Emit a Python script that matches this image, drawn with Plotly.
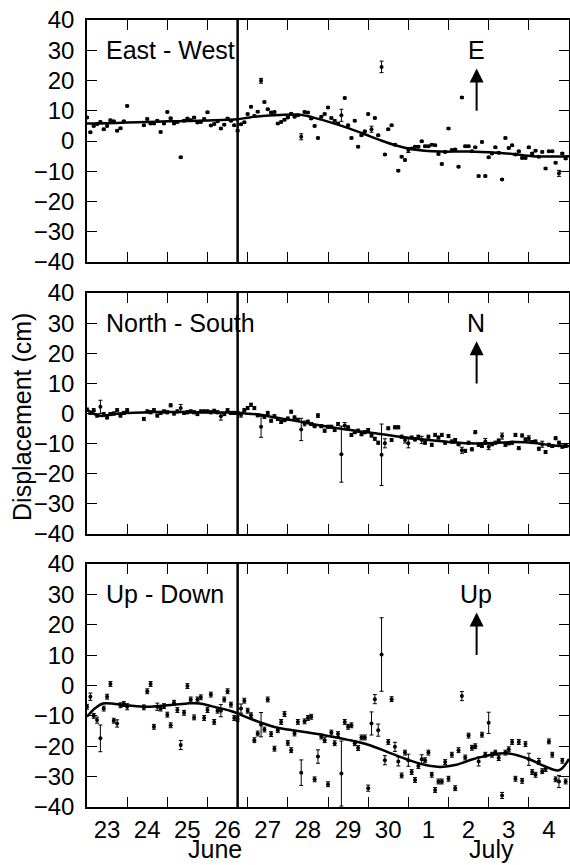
import plotly.graph_objects as go

# ---------------- data ----------------
# sampling times, hours after 23 June 00:00
HOURS = [0, 2, 4, 6, 8, 10, 12, 14, 16, 18, 20, 22, 24,
         34, 36, 38, 40, 42, 44, 46, 48, 50, 52,
         54, 56, 58, 60, 62, 64, 66, 68, 70, 72,
         74, 76, 78, 80, 82, 84, 86, 88, 90, 92,
         94, 96, 98, 100, 102, 104, 106, 108, 110, 112,
         114, 116, 118, 120, 122, 124, 126,
         128, 130, 132, 134, 136, 138, 140, 142, 144, 146,
         148, 150, 152, 154, 156, 158, 160, 162, 164, 166,
         168, 170, 172, 174, 176, 178, 180, 182, 184, 186,
         188, 190, 192, 194, 196, 198, 200, 202, 204, 206,
         208, 210, 212, 214, 216, 218, 220, 222, 224, 226,
         228, 230, 232, 234, 236, 238, 240, 242, 244, 246,
         248, 250, 252, 254, 256, 258, 260, 262, 264, 266,
         268, 270, 272, 274, 276, 278, 280, 282, 284, 286]

EW_VALUES = [7.8, 2.9, 5.0, 5.6, 6.3, 3.9, 5.0, 6.9, 6.5, 3.4, 4.2, 6.5, 11.6,
             5.2, 7.3, 5.8, 5.8, 6.7, 3.0, 5.8, 9.6, 7.5, 5.8,
             6.3, -5.4, 6.7, 7.4, 6.9, 7.8, 6.1, 6.3, 7.3, 9.5,
             5.1, 5.6, 6.5, 4.1, 5.4, 7.4, 6.7, 5.2, 3.4, 5.5,
             6.2, 8.9, 11.3, 8.3, 9.7, 19.9, 12.9, 10.5, 9.4, 9.6,
             5.8, 6.3, 7.0, 7.8, 9.0, 8.0, 8.5,
             1.4, 9.6, 9.4, 7.4, 5.0, 1.0, 8.0, 8.9, 11.1, 7.6,
             6.7, 5.8, 8.5, 14.2, 5.2, 1.0, 6.7, -1.9, 1.9, 3.2,
             8.9, 3.9, 7.6, 1.9, 24.5, -4.5, 3.9, 5.2, -1.2, -9.8,
             -5.2, -6.3, -3.0, -2.5, -1.9, -1.9, -0.1, -1.7, -1.7, -1.2,
             -1.4, -4.3, -7.6, -3.6, 4.1, -3.0, -2.8, -8.5, 14.4, -1.7,
             -1.7, -3.4, -2.1, -11.6, -0.3, -11.6, -5.4, -4.1, -2.1, -3.9,
             -12.7, 1.0, -2.3, -1.4, -4.5, -3.4, -5.6, -5.6, -2.1, -4.1,
             -3.2, -5.2, -3.6, -9.1, -3.4, -3.4, -7.2, -10.7, -4.1, -5.8]
EW_ERRORS = [0.3, 0.3, 0.3, 0.3, 0.3, 0.3, 0.3, 0.3, 0.3, 0.3, 0.3, 0.3, 0.3,
             0.3, 0.3, 0.3, 0.3, 0.3, 0.3, 0.3, 0.3, 0.3, 0.3,
             0.3, 0.3, 0.3, 0.3, 0.3, 0.3, 0.3, 0.3, 0.3, 0.3,
             0.3, 0.3, 0.3, 0.3, 0.3, 0.3, 0.3, 0.3, 0.3, 0.3,
             0.3, 0.3, 0.3, 0.3, 0.3, 0.8, 0.3, 0.3, 0.3, 0.3,
             0.3, 0.3, 0.3, 0.3, 0.3, 0.3, 0.3,
             1.0, 0.3, 0.3, 0.3, 0.3, 0.3, 0.3, 0.3, 0.3, 0.3,
             0.3, 0.3, 2.0, 0.3, 0.3, 0.3, 0.3, 0.3, 0.3, 0.3,
             0.3, 1.0, 0.3, 0.3, 1.9, 0.3, 0.3, 0.3, 0.3, 0.3,
             0.3, 0.3, 0.8, 0.3, 0.3, 0.3, 0.3, 0.3, 0.3, 0.3,
             0.3, 0.3, 0.3, 0.3, 0.3, 0.3, 0.3, 0.3, 0.3, 0.3,
             0.3, 0.3, 0.3, 0.3, 0.3, 0.3, 0.3, 0.3, 0.3, 0.3,
             0.3, 0.3, 0.3, 0.3, 0.3, 0.3, 0.3, 0.3, 0.3, 0.3,
             0.3, 0.3, 0.3, 0.3, 0.3, 0.3, 0.3, 1.0, 0.3, 0.3]

NS_VALUES = [1.3, 0.2, 1.1, -0.7, 2.2, -0.2, -1.3, -0.2, 0.0, 1.1, -0.7, 0.2, 1.1,
             -1.8, 0.7, 0.4, 1.1, -0.7, 0.2, 0.7, 0.4, 2.7, 0.0,
             0.7, 1.8, 0.2, 0.4, 0.7, 0.4, -0.2, 0.7, 0.7, 0.7,
             0.4, 0.9, 0.4, -0.9, -0.2, 1.1, 0.2, 0.2, 0.2, -0.4,
             1.1, 1.8, 2.9, 1.8, -0.6, -4.4, -1.1, 0.2, -2.4, -0.9,
             -1.8, -2.8, -2.2, -1.7, 0.6, -1.3, -2.1,
             -5.3, -3.3, -2.7, -3.5, -4.2, -0.7, -4.2, -5.7, -4.4, -4.4,
             -5.5, -3.5, -13.5, -4.0, -4.6, -7.1, -6.2, -5.7, -6.9, -6.2,
             -5.5, -7.3, -8.4, -9.7, -13.7, -9.9, -4.9, -8.8, -4.6, -4.6,
             -7.7, -8.8, -9.9, -8.0, -8.6, -7.7, -8.8, -9.7, -7.7, -10.4,
             -7.1, -8.0, -7.1, -9.7, -7.5, -9.3, -8.8, -10.2, -12.2, -12.4,
             -9.7, -11.9, -6.2, -10.4, -10.8, -9.3, -11.0, -10.2, -9.7, -9.0,
             -7.5, -10.4, -9.9, -9.7, -7.1, -11.5, -7.3, -8.6, -8.2, -9.5,
             -9.3, -11.7, -10.2, -12.8, -10.4, -10.8, -8.2, -9.7, -11.0, -10.8]
NS_ERRORS = [0.5, 0.5, 0.5, 0.5, 2.2, 0.5, 0.5, 0.5, 0.5, 0.5, 0.5, 0.5, 0.5,
             0.5, 0.5, 0.5, 0.5, 0.5, 0.5, 0.5, 0.5, 0.5, 0.5,
             0.5, 1.2, 0.5, 0.5, 0.5, 0.5, 0.5, 0.5, 0.5, 0.5,
             0.5, 0.5, 0.5, 1.3, 0.5, 0.5, 0.5, 0.5, 0.5, 0.8,
             0.5, 0.5, 0.5, 0.5, 0.5, 3.5, 0.5, 0.5, 0.5, 0.5,
             0.5, 0.5, 0.5, 0.5, 0.5, 0.5, 0.5,
             3.7, 0.8, 0.5, 0.5, 0.5, 0.6, 0.5, 0.5, 0.5, 0.5,
             0.5, 0.5, 9.3, 1.0, 0.5, 0.5, 0.5, 0.5, 0.5, 0.5,
             0.5, 0.5, 0.5, 0.5, 10.2, 1.5, 0.5, 0.5, 0.5, 0.5,
             0.5, 1.0, 1.5, 0.5, 0.5, 0.5, 1.2, 0.5, 0.5, 0.5,
             0.5, 0.5, 0.5, 0.5, 0.5, 0.5, 0.5, 0.5, 1.0, 0.5,
             0.5, 0.5, 0.5, 0.5, 0.5, 1.0, 1.0, 0.5, 0.5, 0.5,
             1.0, 0.5, 0.5, 0.5, 0.5, 0.5, 0.5, 0.5, 0.8, 0.5,
             0.5, 0.5, 1.0, 0.5, 0.5, 0.5, 0.5, 0.5, 0.5, 0.5]

UD_VALUES = [-7.0, -3.7, -10.0, -11.4, -17.4, -7.6, -3.7, 0.5, -11.6, -12.5, -6.5, -6.1, -7.0,
             -7.2, -1.9, 0.5, -13.6, -7.0, -7.6, -6.8, -9.6, -13.1, -5.7,
             -8.1, -19.6, -9.0, -0.2, -4.6, -10.5, -4.6, -3.9, -10.7, -8.1,
             -3.0, -12.0, -8.3, -8.3, -4.6, -1.9, -6.3, -10.7, -11.0, -7.6,
             -5.0, -8.3, -9.8, -18.0, -15.8, -12.9, -14.5, -4.6, -16.0, -20.8,
             -14.7, -12.0, -9.4, -18.9, -21.3, -15.8, -12.0,
             -28.7, -11.8, -10.7, -10.3, -30.9, -23.4, -16.8, -18.0, -32.5, -15.5,
             -19.0, -16.0, -29.0, -12.0, -13.6, -13.1, -19.0, -20.6, -17.1, -17.1,
             -33.8, -12.5, -4.5, -14.7, 10.2, -24.6, -18.6, -4.5, -20.2, -25.0,
             -29.6, -22.1, -24.6, -28.5, -31.1, -26.5, -24.3, -24.6, -22.1, -29.4,
             -34.4, -31.6, -31.6, -25.2, -30.7, -22.8, -33.8, -21.3, -3.5, -23.7,
             -16.5, -20.5, -20.0, -25.0, -16.2, -22.8, -12.3, -22.8, -22.1, -23.9,
             -36.2, -22.1, -21.0, -18.6, -30.7, -18.6, -31.4, -19.3, -24.3, -28.5,
             -29.4, -25.0, -28.2, -27.5, -18.4, -22.8, -30.9, -31.6, -24.8, -31.6]
UD_ERRORS = [0.8, 1.2, 0.8, 1.0, 4.4, 0.8, 0.8, 0.8, 0.8, 1.2, 0.8, 0.8, 1.0,
             0.8, 0.8, 0.8, 0.8, 1.2, 0.8, 0.8, 0.8, 0.8, 0.8,
             0.8, 1.5, 0.8, 0.8, 0.8, 0.8, 0.8, 0.8, 0.8, 0.8,
             0.8, 0.8, 0.8, 2.0, 0.8, 0.8, 0.8, 0.8, 0.8, 1.5,
             0.8, 0.8, 0.8, 0.8, 0.8, 4.0, 0.8, 0.8, 0.8, 0.8,
             0.8, 0.8, 0.8, 0.8, 0.8, 0.8, 0.8,
             4.2, 0.8, 0.8, 0.8, 0.8, 2.2, 0.8, 0.8, 0.8, 0.8,
             0.8, 0.8, 10.7, 0.8, 0.8, 0.8, 0.8, 0.8, 0.8, 0.8,
             1.0, 3.8, 1.5, 2.0, 12.1, 1.5, 0.8, 0.8, 1.5, 1.5,
             0.8, 0.8, 2.0, 0.8, 0.8, 0.8, 1.5, 0.8, 0.8, 0.8,
             0.8, 0.8, 0.8, 0.8, 0.8, 0.8, 0.8, 0.8, 1.5, 0.8,
             0.8, 0.8, 0.8, 1.5, 0.8, 0.8, 3.5, 0.8, 0.8, 0.8,
             1.0, 0.8, 0.8, 0.8, 0.8, 0.8, 0.8, 0.8, 2.0, 0.8,
             0.8, 1.0, 0.8, 0.8, 0.8, 0.8, 0.8, 2.0, 0.8, 0.8]

# smooth model curves (days after 23 June 00:00, cm)
EW_FIT_DAYS = [0, 0.5, 1, 1.5, 2, 2.5, 3, 3.5, 3.75, 4.0, 4.3, 4.8, 5.3, 5.6, 6.0, 6.45,
               6.9, 7.3, 7.7, 8.0, 8.4, 8.8, 9.5, 10.2, 10.6, 11.1, 11.5, 12]
EW_FIT_VALUES = [5.8, 5.9, 6.1, 6.3, 6.5, 6.6, 6.8, 7.0, 7.2, 7.7, 8.2, 8.6, 8.7, 7.9, 6.4, 4.5,
                 2.3, 0.3, -1.5, -2.5, -3.2, -3.5, -3.5, -3.9, -4.3, -5.0, -5.1, -5.0]
NS_FIT_DAYS = [0, 0.15, 0.35, 0.6, 1.0, 1.5, 2.0, 2.5, 3.0, 3.5, 3.75, 4.3, 4.8, 5.3, 5.6,
               6.45, 7.3, 8.1, 8.9, 9.5, 9.9, 10.6, 11.1, 11.6, 12]
NS_FIT_VALUES = [1.3, 0.0, -0.8, -0.3, 0.2, 0.4, 0.5, 0.5, 0.4, 0.3, 0.2, -0.4, -1.6, -2.7, -3.5,
                 -5.3, -6.8, -8.2, -9.3, -9.9, -9.9, -9.5, -9.7, -10.6, -10.8]
UD_FIT_DAYS = [0, 0.2, 0.4, 0.7, 1.0, 1.5, 2.0, 2.5, 2.8, 3.1, 3.6, 4.1, 4.6, 5.0, 5.5, 6.0,
               6.5, 7.0, 7.5, 8.0, 8.4, 8.8, 9.2, 9.6, 10.1, 10.5, 11.0, 11.4, 11.75, 12.0]
UD_FIT_VALUES = [-10.3, -7.5, -5.9, -6.1, -6.5, -7.0, -6.5, -5.9, -5.9, -6.8, -8.5, -11.1, -13.4,
                 -14.5, -15.5, -16.6, -17.9, -19.5, -22.0, -24.5, -26.1, -26.8, -26.1, -24.3,
                 -22.7, -22.4, -24.2, -26.6, -27.9, -24.2]

DAY_LABELS = ["23", "24", "25", "26", "27", "28", "29", "30", "1", "2", "3", "4"]
MONTH_LABELS = ["June", "July"]
PANEL_TITLES = ["East - West", "North - South", "Up - Down"]
DIRECTION_LABELS = ["E", "N", "Up"]
EVENT_DAY = 3.75
Y_TITLE = "Displacement (cm)"

# ---------------- figure ----------------
FONT = "Liberation Sans, Arial, Helvetica, sans-serif"
days = [h / 24 for h in HOURS]

panels = [
    (EW_VALUES, EW_ERRORS, EW_FIT_DAYS, EW_FIT_VALUES),
    (NS_VALUES, NS_ERRORS, NS_FIT_DAYS, NS_FIT_VALUES),
    (UD_VALUES, UD_ERRORS, UD_FIT_DAYS, UD_FIT_VALUES),
]
domains = [[0.6925, 1.0], [0.3469, 0.6531], [0.0, 0.3088]]

fig = go.Figure()
for i, (vals, errs, fdays, fvals) in enumerate(panels):
    xa = "x" if i == 0 else f"x{i+1}"
    ya = "y" if i == 0 else f"y{i+1}"
    fig.add_trace(go.Scatter(
        x=days, y=vals, mode="markers", xaxis=xa, yaxis=ya,
        marker=dict(symbol="circle", size=4, color="black", line=dict(width=0)),
        error_y=dict(type="data", array=errs, visible=True, color="black",
                     thickness=1, width=2),
        showlegend=False, hoverinfo="skip"))
    fig.add_trace(go.Scatter(
        x=fdays, y=fvals, mode="lines", xaxis=xa, yaxis=ya,
        line=dict(color="black", width=2.5, shape="spline", smoothing=1.0),
        showlegend=False, hoverinfo="skip"))

axis_common = dict(showline=True, linecolor="black", linewidth=1.5, mirror="ticks",
                   ticks="inside", ticklen=10, tickwidth=1.2, tickcolor="black",
                   showgrid=False, zeroline=False, automargin=False)

layout = dict(
    width=570, height=865,
    margin=dict(l=87, r=1, t=20, b=58),
    paper_bgcolor="white", plot_bgcolor="white",
    font=dict(family=FONT, size=24, color="black"),
    showlegend=False,
)
for i in range(3):
    xk = "xaxis" if i == 0 else f"xaxis{i+1}"
    yk = "yaxis" if i == 0 else f"yaxis{i+1}"
    ya = "y" if i == 0 else f"y{i+1}"
    xa = "x" if i == 0 else f"x{i+1}"
    xaxis = dict(axis_common, domain=[0, 1], anchor=ya, range=[0, 12],
                 tickmode="array", tickvals=list(range(13)))
    if i == 2:
        xaxis.update(ticktext=DAY_LABELS + [""], showticklabels=True,
                     ticklabelshift=20, tickfont=dict(size=24))
    else:
        xaxis.update(showticklabels=False)
    yaxis = dict(axis_common, domain=domains[i], anchor=xa, range=[-40, 40],
                 tickmode="array", tickvals=list(range(-40, 41, 10)),
                 tickfont=dict(size=24), ticklabelstandoff=6)
    layout[xk] = xaxis
    layout[yk] = yaxis

fig.update_layout(**layout)

annotations = []
shapes = []
for i in range(3):
    xa = "x" if i == 0 else f"x{i+1}"
    ya = "y" if i == 0 else f"y{i+1}"
    annotations.append(dict(text=PANEL_TITLES[i], x=0.42, y=30, xref=xa, yref=ya,
                            xanchor="left", yanchor="middle", showarrow=False,
                            font=dict(size=25)))
    annotations.append(dict(text=DIRECTION_LABELS[i], x=9.69, y=30, xref=xa, yref=ya,
                            xanchor="center", yanchor="middle", showarrow=False,
                            font=dict(size=25)))
    annotations.append(dict(text="", x=9.7, y=24, xref=xa, yref=ya,
                            ax=9.7, ay=9.5, axref=xa, ayref=ya,
                            showarrow=True, arrowhead=2, arrowsize=1.4,
                            arrowwidth=2, arrowcolor="black"))
    shapes.append(dict(type="line", x0=EVENT_DAY, x1=EVENT_DAY, y0=0, y1=1,
                       xref=xa, yref=f"{ya} domain",
                       line=dict(color="black", width=2.5)))

# shared y-axis title
annotations.append(dict(text=Y_TITLE, x=-0.1349, y=0.4956, xref="paper", yref="paper",
                        xanchor="center", yanchor="middle", textangle=-90,
                        showarrow=False, font=dict(size=25)))
annotations.append(dict(text=MONTH_LABELS[0], x=0.2656, y=-0.0535, xref="paper", yref="paper",
                        xanchor="center", yanchor="middle", showarrow=False,
                        font=dict(size=25)))
annotations.append(dict(text=MONTH_LABELS[1], x=0.840, y=-0.0535, xref="paper", yref="paper",
                        xanchor="center", yanchor="middle", showarrow=False,
                        font=dict(size=25)))

fig.update_layout(annotations=annotations, shapes=shapes)
# remove the default 8 px page margin so the figure fills the window exactly
fig.write_html("out.html", config={"displayModeBar": False},
               post_script="document.body.style.margin='0px';")
